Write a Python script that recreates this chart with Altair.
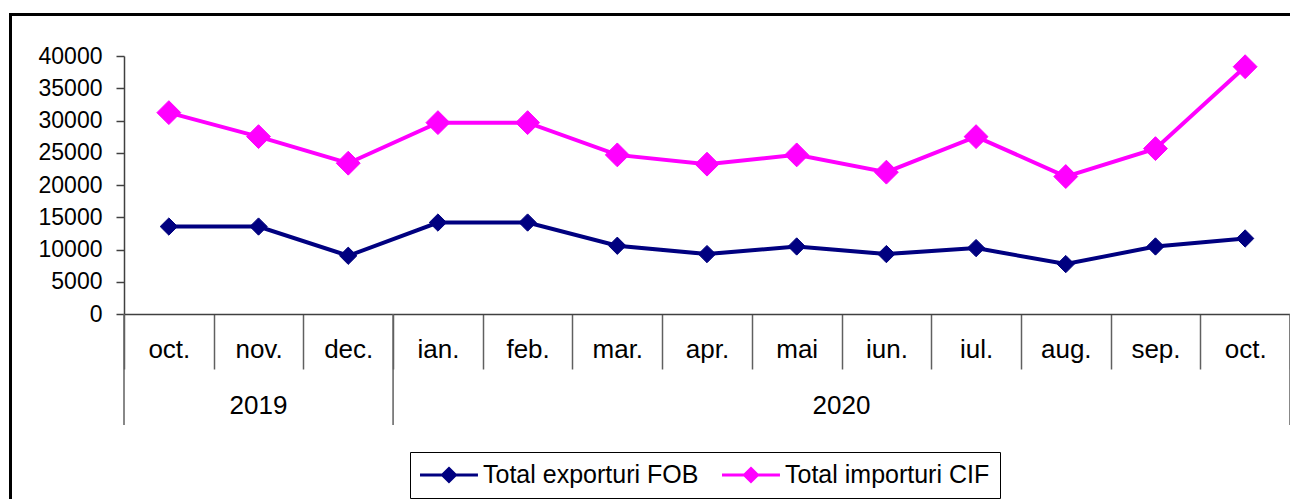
import altair as alt
import pandas as pd

months = ["oct.", "nov.", "dec.", "ian.", "feb.", "mar.", "apr.", "mai", "iun.", "iul.", "aug.", "sep.", "oct."]
years = ["2019", "2019", "2019", "2020", "2020", "2020", "2020", "2020", "2020", "2020", "2020", "2020", "2020"]
exports = [13560, 13560, 9030, 14180, 14180, 10580, 9290, 10470, 9290, 10220, 7740, 10470, 11710]
imports = [31220, 27500, 23380, 29670, 29670, 24670, 23230, 24670, 21990, 27500, 21310, 25640, 38340]
series_names = ["Total exporturi FOB", "Total importuri CIF"]
series_colors = ["#000080", "#FF00FF"]
marker_sizes = [300, 570]
y_ticks = [0, 5000, 10000, 15000, 20000, 25000, 30000, 35000, 40000]

keys = [f"{m} {y}" for m, y in zip(months, years)]
rows = []
for k, e, i in zip(keys, exports, imports):
    rows.append({"key": k, "series": series_names[0], "value": e})
    rows.append({"key": k, "series": series_names[1], "value": i})
df = pd.DataFrame(rows)

FONT = "Liberation Sans"
xscale = alt.Scale(type="band", domain=keys, paddingInner=0, paddingOuter=0)
yscale = alt.Scale(domain=[0, 40000], nice=False, zero=True)
cscale = alt.Scale(domain=series_names, range=series_colors)

x_axis = alt.Axis(
    title=None, labelExpr="split(datum.label, ' ')[0]", tickBand="extent",
    tickSize=55, labelPadding=-20, labelBaseline="middle", labelAngle=0,
    labelFontSize=26, labelFont=FONT, labelColor="black", labelOverlap=False,
    domainColor="#404040", tickColor="#606060", tickWidth=1.5, domainWidth=1.5,
)
y_axis = alt.Axis(
    title=None, values=y_ticks, format="d", grid=False, tickSize=8,
    labelPadding=14, labelFontSize=23, labelFont=FONT, labelColor="black",
    labelOverlap=False, labelBaseline="middle",
    domainColor="#404040", tickColor="#404040", domainWidth=1.5, tickWidth=1.5,
)

# legend symbol: a 58px line with a diamond in its middle (unit = 11.5px, centre at 13px)
legend_path = "M-1.13,0L3.91,0M1.39,-0.565L1.955,0L1.39,0.565L0.825,0Z"
leg = alt.Legend(
    title=None, orient="none", legendX=286, legendY=396, direction="horizontal",
    columns=2, symbolType=legend_path, symbolSize=529, symbolStrokeWidth=3,
    labelFontSize=25, labelFont=FONT, labelColor="black", labelLimit=500,
    labelOffset=37, columnPadding=17, padding=10, strokeColor="black",
    fillColor="white", symbolOpacity=1,
)

X = lambda bp=0.5: alt.X("key:N", scale=xscale, axis=x_axis, bandPosition=bp)
Y = alt.Y("value:Q", scale=yscale, axis=y_axis)

base = alt.Chart(df)
lines = base.mark_line(strokeWidth=4).encode(
    x=X(), y=Y,
    stroke=alt.Stroke("series:N", scale=cscale, legend=leg),
    detail="series:N",
)
layers = [lines]
for name, sz in zip(series_names, marker_sizes):
    layers.append(base.transform_filter(alt.datum.series == name).mark_point(
        shape="diamond", filled=True, opacity=1, strokeWidth=1, size=sz
    ).encode(
        x=X(), y=Y,
        fill=alt.Fill("series:N", scale=cscale, legend=leg),
        stroke=alt.Stroke("series:N", scale=cscale, legend=leg),
    ))

# year separators and labels
first_idx = {}
last_idx = {}
for i, y in enumerate(years):
    first_idx.setdefault(y, i)
    last_idx[y] = i
sep_start = pd.DataFrame({"key": [keys[first_idx[y]] for y in first_idx]})
layers.append(alt.Chart(sep_start).mark_rule(color="#606060", strokeWidth=1.5).encode(
    x=X(0), y=alt.value(258), y2=alt.value(369)))
sep_end = pd.DataFrame({"key": [keys[-1]]})
layers.append(alt.Chart(sep_end).mark_rule(color="#606060", strokeWidth=1.5).encode(
    x=X(1), y=alt.value(258), y2=alt.value(369)))
for y in first_idx:
    mid = (first_idx[y] + last_idx[y] + 1) / 2
    idx = int(mid)
    bp = mid - idx
    ydf = pd.DataFrame({"key": [keys[idx]], "year": [y]})
    layers.append(alt.Chart(ydf).mark_text(fontSize=26, font=FONT, color="black", baseline="middle").encode(
        x=X(bp), y=alt.value(350), text="year:N"))

border = alt.Chart(pd.DataFrame({"a": [0]})).mark_rect(
    fillOpacity=0, stroke="black", strokeWidth=3
).encode(x=alt.value(-113.5), x2=alt.value(1300), y=alt.value(-41.5), y2=alt.value(600))
layers.append(border)

chart = alt.layer(*layers).properties(
    width=1166, height=258,
    padding={"left": 116, "top": 48, "right": 0, "bottom": 185},
    autosize=alt.AutoSizeParams(type="none"),
).configure_view(stroke=None)

chart.save("out.html", embed_options={"renderer": "svg", "actions": False})
